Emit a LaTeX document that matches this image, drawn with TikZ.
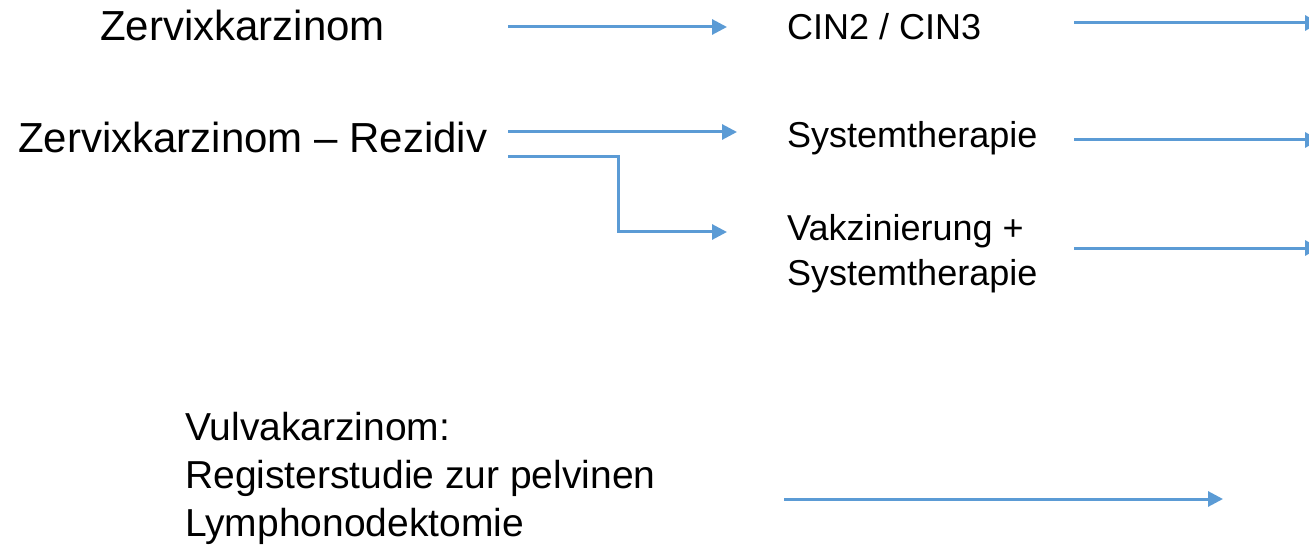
\documentclass[tikz,border=0pt]{standalone}
\usepackage{fontspec}
\setmainfont{Liberation Sans}
\usetikzlibrary{arrows.meta}
\definecolor{lineblue}{HTML}{5B9BD5}

\begin{document}
\begin{tikzpicture}[x=1pt,y=-1pt]
    \tikzstyle{label}=[inner sep=0pt, anchor=base west]
    \tikzstyle{big}=[label, font=\fontsize{42}{50}\selectfont]
    \tikzstyle{mid}=[label, align=left, font=\fontsize{36}{45}\selectfont]
    \tikzstyle{low}=[label, align=left, font=\fontsize{39}{48}\selectfont]
    \tikzstyle{link}=[draw=lineblue, line width=3pt, -{Triangle[length=15pt,width=15pt]}]

    \useasboundingbox (0,0) rectangle (1309,548);

    % diagnoses (multi-line nodes sit on their last baseline)
    \node[big] (ZK) at (100,41) {Zervixkarzinom};
    \node[big] (ZR) at (18,153) {Zervixkarzinom -- Rezidiv};
    \node[low] (VK) at (185,536) {Vulvakarzinom:\\Registerstudie zur pelvinen\\Lymphonodektomie};

    % studies
    \node[mid] (CIN) at (787,40) {CIN2 / CIN3};
    \node[mid] (ST) at (787,148) {Systemtherapie};
    \node[mid] (VS) at (787,285) {Vakzinierung +\\Systemtherapie};

    \coordinate (ZK-out) at (508,27);
    \coordinate (CIN-in) at (727,27);
    \coordinate (ZR-out) at (508,132);
    \coordinate (ST-in) at (737,132);
    \coordinate (ZR-low) at (508,157);
    \coordinate (VS-in) at (727,232);
    \coordinate (VK-out) at (784,499);
    \coordinate (VK-in) at (1223,499);

    \path[link] (ZK-out) -- (CIN-in);
    \path[link] (ZR-out) -- (ST-in);
    \path[link] (ZR-low) -| (618,194) |- (VS-in);
    \path[link] (VK-out) -- (VK-in);

    \foreach \n/\y in {CIN/23,ST/140,VS/248}{
        \coordinate (\n-out) at (1074,\y);
        \coordinate (\n-end) at (1320,\y);
        \path[link] (\n-out) -- (\n-end);
    }
\end{tikzpicture}
\end{document}
